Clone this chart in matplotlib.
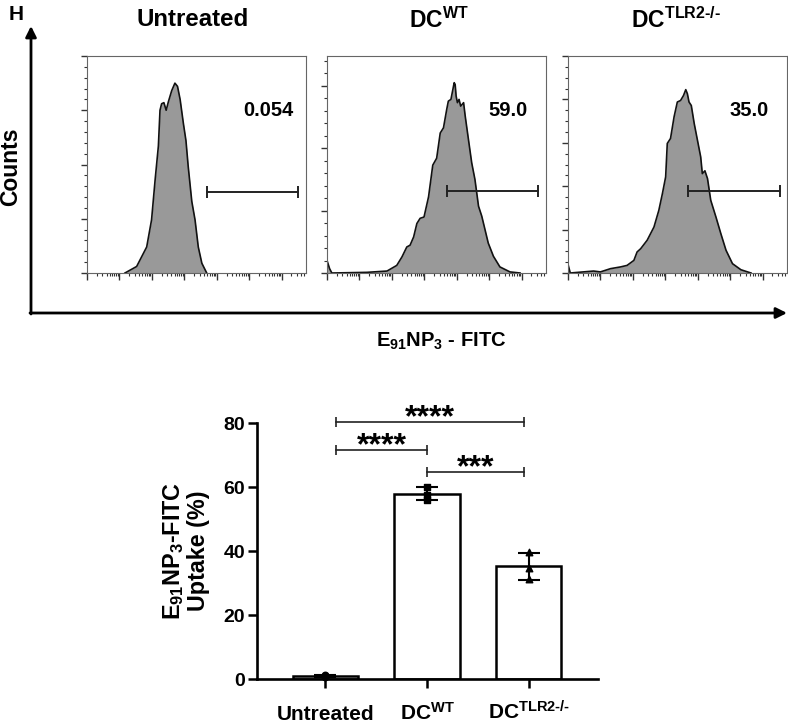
import matplotlib
matplotlib.use('Agg')
import matplotlib.pyplot as plt
from matplotlib.ticker import LogLocator, NullFormatter, MultipleLocator, AutoMinorLocator
import numpy as np

plt.rcParams['font.family'] = ['Liberation Sans', 'DejaVu Sans']
plt.rcParams['font.weight'] = 'bold'
plt.rcParams['axes.labelweight'] = 'bold'
plt.rcParams['mathtext.fontset'] = 'custom'
plt.rcParams['mathtext.rm'] = 'Liberation Sans:bold'
plt.rcParams['mathtext.it'] = 'Liberation Sans:bold'
plt.rcParams['mathtext.bf'] = 'Liberation Sans:bold'
plt.rcParams['mathtext.default'] = 'rm'

## histogram data: log10 FITC intensity vs. relative counts
groups = ['Untreated', 'DC$^{WT}$', 'DC$^{TLR2\\text{-}/\\text{-}}$']

untreated_logx = [1.17, 1.53, 1.84, 1.99, 2.10, 2.20, 2.25, 2.30, 2.37, 2.44, 2.51, 2.61, 2.71,
                  2.79, 2.87, 2.97, 3.05, 3.12, 3.23, 3.33, 3.43, 3.54, 3.69]
untreated_cnt = [0, 0.03, 0.12, 0.245, 0.43, 0.585, 0.75, 0.78, 0.785, 0.75, 0.79, 0.84, 0.875,
                 0.86, 0.80, 0.69, 0.61, 0.49, 0.33, 0.245, 0.12, 0.045, 0]

wt_logx = [0.0, 0.08, 0.15, 1.23, 1.85, 2.15, 2.31, 2.46, 2.56, 2.67, 2.77, 2.87, 2.99, 3.13, 3.26,
           3.38, 3.49, 3.59, 3.69, 3.74, 3.82, 3.88, 3.92, 3.95, 3.98, 4.02, 4.07, 4.12, 4.21, 4.26,
           4.36, 4.46, 4.56, 4.67, 4.77, 4.87, 4.97, 5.13, 5.33, 5.64, 5.95]
wt_cnt = [0.058, 0.02, 0, 0.003, 0.009, 0.035, 0.074, 0.12, 0.128, 0.166, 0.228, 0.252, 0.258, 0.351,
          0.497, 0.529, 0.645, 0.669, 0.754, 0.792, 0.80, 0.846, 0.877, 0.869, 0.815, 0.785, 0.80,
          0.769, 0.785, 0.723, 0.615, 0.508, 0.431, 0.308, 0.262, 0.20, 0.138, 0.077, 0.028, 0.005, 0]

ko_logx = [0.0, 0.07, 0.79, 1.0, 1.31, 1.62, 1.82, 2.03, 2.13, 2.24, 2.44, 2.65, 2.80, 2.91, 3.01,
           3.06, 3.16, 3.27, 3.37, 3.47, 3.56, 3.63, 3.68, 3.73, 3.80, 3.89, 3.99, 4.09, 4.14, 4.22,
           4.30, 4.40, 4.56, 4.71, 4.87, 5.07, 5.33, 5.64]
ko_cnt = [0.04, 0, 0.009, 0.005, 0.02, 0.028, 0.035, 0.058, 0.097, 0.112, 0.151, 0.212, 0.289, 0.366,
          0.443, 0.597, 0.62, 0.72, 0.788, 0.795, 0.818, 0.845, 0.826, 0.788, 0.772, 0.689, 0.612,
          0.535, 0.458, 0.471, 0.435, 0.335, 0.258, 0.182, 0.105, 0.043, 0.015, 0]

gate_logx = [[3.69, 6.51], [3.69, 6.50], [3.70, 6.53]]
gate_level = [0.375, 0.377, 0.377]
gate_pct = ['0.054', '59.0', '35.0']

## uptake bar data (%)
uptake_reps = [[1.2, 0.5, 0.9], [60.0, 57.6, 56.0], [39.6, 34.8, 31.2]]
sig_pairs = [(0, 2, '****', 80.3), (0, 1, '****', 71.6), (1, 2, '***', 64.7)]

W, H = 788, 725
fig = plt.figure(figsize=(W / 100, H / 100), dpi=100)

def px(x0, y0, w, h):
    return [x0 / W, 1 - (y0 + h) / H, w / W, h / H]

## big arrows
ov = fig.add_axes([0, 0, 1, 1])
ov.set_xlim(0, W)
ov.set_ylim(H, 0)
ov.axis('off')
ov.annotate('', xy=(31, 26), xytext=(31, 314),
            arrowprops=dict(arrowstyle='-|>', lw=2, color='k', mutation_scale=16, shrinkA=0, shrinkB=0))
ov.annotate('', xy=(787, 313), xytext=(30, 313),
            arrowprops=dict(arrowstyle='-|>', lw=2, color='k', mutation_scale=16, shrinkA=0, shrinkB=0))
fig.text(16 / W, 1 - 15 / H, 'H', fontsize=15, ha='center', va='center')
fig.text(11 / W, 1 - 167 / H, 'Counts', fontsize=16.5, rotation=90, ha='center', va='center')
fig.text(441 / W, 1 - 341 / H, 'E$_{91}$NP$_3$ - FITC', fontsize=14.5, ha='center', va='center')

lefts = [87, 327, 568]
title_x = [193, 439, 676]
title_fs = [17.3, 16.5, 16.5]
ystep = [0.25, 0.2877, 0.2]
ysub = [5, 5, 4]
curves = [(untreated_logx, untreated_cnt), (wt_logx, wt_cnt), (ko_logx, ko_cnt)]

for i in range(3):
    ax = fig.add_axes(px(lefts[i], 56, 219, 217))
    lx, cnt = curves[i]
    xs = 10 ** np.array(lx)
    ax.fill_between(xs, cnt, 0, color='#999999', lw=0)
    ax.plot(xs, cnt, color='#111111', lw=1.2)
    ax.set_xscale('log')
    ax.set_xlim(1, 10 ** 6.75)
    ax.set_ylim(0, 1)
    ax.xaxis.set_major_locator(LogLocator(base=10, numticks=20))
    ax.xaxis.set_minor_locator(LogLocator(base=10, subs=np.arange(2, 10), numticks=20))
    ax.xaxis.set_major_formatter(NullFormatter())
    ax.xaxis.set_minor_formatter(NullFormatter())
    ax.yaxis.set_major_locator(MultipleLocator(ystep[i]))
    ax.yaxis.set_minor_locator(AutoMinorLocator(ysub[i]))
    ax.yaxis.set_major_formatter(NullFormatter())
    ax.tick_params(axis='x', which='major', direction='out', length=5, width=1, color='#333333')
    ax.tick_params(axis='x', which='minor', direction='out', length=2.5, width=0.8, color='#333333')
    ax.tick_params(axis='y', which='major', direction='out', length=4.5, width=1, color='#333333')
    ax.tick_params(axis='y', which='minor', direction='out', length=2.5, width=0.8, color='#333333')
    for s in ax.spines.values():
        s.set_color('#666666')
        s.set_linewidth(0.8)
    g0, g1 = gate_logx[i]
    ax.plot([10 ** g0, 10 ** g1], [gate_level[i], gate_level[i]], color='#222222', lw=1.4,
            marker='|', markersize=9, markeredgewidth=1.4)
    ax.text(10 ** 5.59, 0.75, gate_pct[i], fontsize=14.5, ha='center', va='center')
    fig.text(title_x[i] / W, 1 - 20 / H, groups[i], fontsize=title_fs[i], ha='center', va='center')

## uptake bar chart
bx = fig.add_axes(px(257, 423, 341, 256))
pos = np.arange(3)
means = [np.mean(r) for r in uptake_reps]
sds = [np.std(r, ddof=1) for r in uptake_reps]
bx.bar(pos, means, width=0.64, color='white', edgecolor='k', lw=1.8, zorder=2)
bx.errorbar(pos, means, yerr=sds, fmt='none', ecolor='k', elinewidth=1.5, capsize=8, capthick=1.5, zorder=3)
for p, r, m in zip(pos, uptake_reps, ['o', 's', '^']):
    bx.scatter([p] * len(r), r, marker=m, s=22, color='k', zorder=4, clip_on=False)

bracket_x = [0.11, 1.0, 1.95]
for a, b, lab, lev in sig_pairs:
    bx.plot([bracket_x[a], bracket_x[b]], [lev, lev], color='#222222', lw=1.2, clip_on=False,
            marker='|', markersize=7, markeredgewidth=1.2)
    bx.text((bracket_x[a] + bracket_x[b]) / 2, lev - 1.3, lab, fontsize=23, ha='center', va='baseline')

bx.set_xlim(-0.67, 2.68)
bx.set_ylim(0, 80)
bx.set_yticks([0, 20, 40, 60, 80])
bx.set_xticks(pos)
bx.set_xticklabels(groups, fontsize=15)
for lbl in bx.get_xticklabels():
    lbl.set_va('baseline')
bx.tick_params(axis='y', labelsize=14, length=6.5, width=1.8, pad=2)
bx.tick_params(axis='x', length=6.5, width=1.8, pad=23)
bx.spines['top'].set_visible(False)
bx.spines['right'].set_visible(False)
bx.spines['left'].set_linewidth(1.9)
bx.spines['bottom'].set_linewidth(1.9)
bx.set_ylabel('E$_{91}$NP$_3$-FITC\nUptake (%)', fontsize=16.8, linespacing=1.05, labelpad=10)

fig.savefig('out.png', dpi=100)
